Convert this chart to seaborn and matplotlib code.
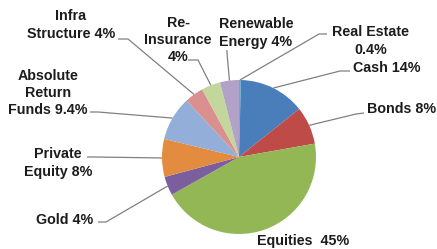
import numpy as np
import matplotlib
matplotlib.use('Agg')
import matplotlib.pyplot as plt
import seaborn as sns

# data (clockwise from 12 o'clock)
labels = ['Real Estate\n0.4%', 'Cash 14%', 'Bonds 8%', 'Equities  45%', 'Gold 4%',
          'Private\nEquity 8%', 'Absolute\nReturn\nFunds 9.4%', 'Infra\nStructure 4%',
          'Re-\nInsurance\n4%', 'Renewable\nEnergy 4%']
shares = [0.4, 14, 8, 45, 4, 8, 9.4, 4, 4, 4]
hex_colors = ['#5DB3CF', '#4A7EBB', '#BE4B48', '#94B756', '#7A5E9E',
              '#E38B3E', '#93AFD9', '#D9908E', '#C3D69B', '#B3A2C7']

# layout, in pixels of the 437x249 picture
W, H = 437, 249
CX, CY, R = 239, 157, 77
text_pos = [(371, 41), (387, 68), (402, 109), (303, 241), (65, 220),
            (58, 163), (48, 93), (71, 25), (178, 40), (256, 33)]
leader_start = [(327, 34), (350, 71), (364, 113), None, (98, 222),
                (87, 157), (90, 112), (118, 39), (188, 60), (227, 50)]
leader_bend = [(319, 34), (340, 71), (356, 114), None, (106, 222),
               (95, 157), (98, 112), (128, 39), (198, 60), (227, 53)]

def px(p):
    return ((p[0] - CX) / R, (CY - p[1]) / R)

sns.set_theme(style='white')
plt.rcParams['font.family'] = ['Liberation Sans', 'DejaVu Sans']

fig = plt.figure(figsize=(W / 100, H / 100), dpi=100)
ax = fig.add_axes([0, 0, 1, 1])
wedges, _ = ax.pie(shares, colors=sns.color_palette(hex_colors), startangle=90,
                   counterclock=False, radius=1, center=(0, 0),
                   wedgeprops=dict(linewidth=0))
ax.set_xlim(-CX / R, (W - CX) / R)
ax.set_ylim(-(H - CY) / R, CY / R)
ax.set_aspect('auto')
ax.axis('off')

for w, lab, tp, s, b in zip(wedges, labels, text_pos, leader_start, leader_bend):
    tx, ty = px(tp)
    ax.text(tx, ty, lab, ha='center', va='center', fontsize=10.3,
            fontweight='bold', color='#1c1c1c', linespacing=1.28)
    if s is None:
        continue
    mid = np.deg2rad((w.theta1 + w.theta2) / 2)
    end = (np.cos(mid), np.sin(mid))
    p0, p1 = px(s), px(b)
    ax.plot([p0[0], p1[0], end[0]], [p0[1], p1[1], end[1]],
            color='#808080', lw=0.9, solid_capstyle='butt')

fig.savefig('out.png', dpi=100)
